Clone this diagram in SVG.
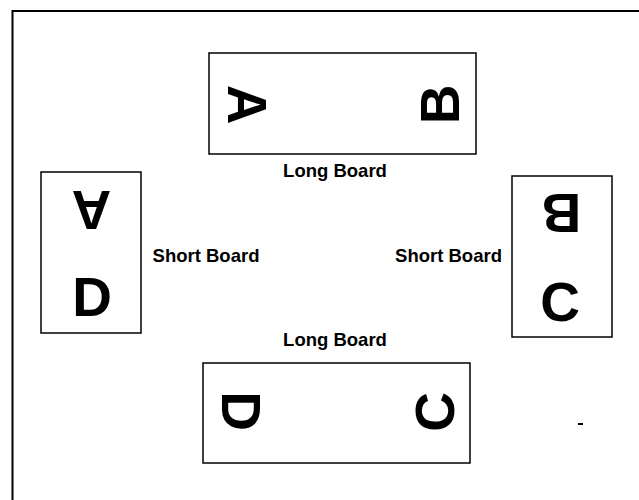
<svg xmlns="http://www.w3.org/2000/svg" width="639" height="500" viewBox="0 0 639 500">
<style>
.board{fill:#fff;stroke:#000;stroke-width:1.5}
.big{font-family:"Liberation Sans",Arial,sans-serif;font-weight:bold;font-size:55px;fill:#000;text-anchor:middle}
.lbl{font-family:"Liberation Sans",Arial,sans-serif;font-weight:bold;font-size:18.5px;fill:#000;text-anchor:middle}
.frame{fill:none;stroke:#000;stroke-width:2}
</style>
<rect width="639" height="500" fill="#fff"/>
<g id="frame">
<path class="frame" d="M639 11 H12.5 V500"/>
</g>
<g id="connectors"></g>
<g id="top-board">
<rect class="board" x="209" y="53" width="267" height="101"/>
<text class="big" transform="translate(248,104.5) rotate(90)" y="19.7">A</text>
<text class="big" transform="translate(439,104.5) rotate(-90)" y="19.7">B</text>
<text class="lbl" x="335" y="177">Long Board</text>
</g>
<g id="left-board">
<rect class="board" x="41" y="172" width="100" height="161"/>
<text class="big" transform="translate(91.5,211) rotate(180)" y="19.7">A</text>
<text class="big" transform="translate(92,296)" y="19.7">D</text>
<text class="lbl" x="206" y="262">Short Board</text>
</g>
<g id="right-board">
<rect class="board" x="512" y="176" width="100" height="161"/>
<text class="big" transform="translate(561.5,214) rotate(180)" y="19.7">B</text>
<text class="big" transform="translate(560,301)" y="19.7">C</text>
<text class="lbl" x="448.5" y="262">Short Board</text>
</g>
<g id="bottom-board">
<rect class="board" x="203" y="363" width="267" height="100"/>
<text class="big" transform="translate(242,411) rotate(90)" y="19.7">D</text>
<text class="big" transform="translate(434,412) rotate(-90)" y="19.7">C</text>
<text class="lbl" x="335" y="346">Long Board</text>
</g>
<rect x="578" y="423" width="5" height="2" fill="#000"/>
</svg>
